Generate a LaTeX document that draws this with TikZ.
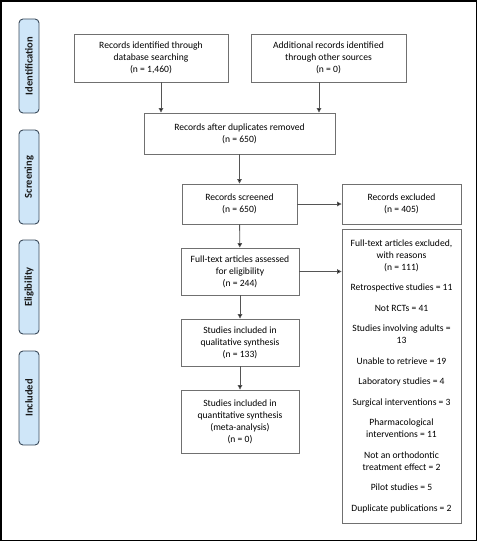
\documentclass[tikz,border=0pt]{standalone}
\usepackage{fontspec}
\setmainfont{Carlito}
\usetikzlibrary{arrows.meta,calc}
\definecolor{boxline}{HTML}{707070}
\definecolor{arrline}{HTML}{555555}
\definecolor{bandfill}{HTML}{CFE6F8}
\definecolor{bandline}{HTML}{3A4A5A}
\tikzset{
  flowbox/.style={draw=boxline, line width=0.9pt, fill=white, align=center, inner sep=2pt,
    font=\fontsize{9.6}{12}\selectfont},
  band/.style={draw=bandline, line width=0.9pt, fill=bandfill, rounded corners=4pt,
    minimum width=20pt, minimum height=94pt, inner sep=0pt},
  bandtext/.style={rotate=90, font=\fontsize{10.5}{12}\selectfont\bfseries, text=black!90},
  arr/.style={draw=arrline, line width=0.9pt, -{Triangle[length=4.5pt,width=4.5pt,fill=black]}},
}
\begin{document}
\begin{tikzpicture}[x=1pt,y=-1pt]
\useasboundingbox (0,0) rectangle (480,543);
\draw[line width=1.6pt] (1,1) rectangle (476.5,540.5);

% side bands
\node[band] (b1) at (29,66) {};
\node[bandtext] at (b1) {Identification};
\node[band] (b2) at (29,177) {};
\node[bandtext] at (b2) {Screening};
\node[band] (b3) at (29,287) {};
\node[bandtext] at (b3) {Eligibility};
\node[band] (b4) at (29,398) {};
\node[bandtext] at (b4) {Included};

% boxes
\node[flowbox, minimum width=154pt, minimum height=48pt] (A) at (151,58)
  {Records identified through\\database searching\\(n = 1,460)};
\node[flowbox, minimum width=155pt, minimum height=48pt] (B) at (328.5,58)
  {Additional records identified\\through other sources\\(n = 0)};
\node[flowbox, minimum width=191pt, minimum height=41pt] (C) at (239.5,133.5)
  {Records after duplicates removed\\(n = 650)};
\node[flowbox, minimum width=115pt, minimum height=40pt] (D) at (239.5,204)
  {Records screened\\(n = 650)};
\node[flowbox, minimum width=119pt, minimum height=40pt] (E) at (401.5,204)
  {Records excluded\\(n = 405)};
\node[flowbox, minimum width=118pt, minimum height=47pt] (F) at (240,271.5)
  {Full-text articles assessed\\for eligibility\\(n = 244)};
\node[flowbox, minimum width=118pt, minimum height=47pt] (H) at (240,342.5)
  {Studies included in\\qualitative synthesis\\(n = 133)};
\node[flowbox, minimum width=118pt, minimum height=63pt] (I) at (240,421.5)
  {Studies included in\\quantitative synthesis\\(meta-analysis)\\(n = 0)};
\node[flowbox, minimum width=119pt, minimum height=294pt] (G) at (401.5,376)
  {Full-text articles excluded,\\with reasons\\(n = 111)\\[8.5pt]
   Retrospective studies = 11\\[8.5pt]
   Not RCTs = 41\\[8.5pt]
   Studies involving adults =\\13\\[8.5pt]
   Unable to retrieve = 19\\[8.5pt]
   Laboratory studies = 4\\[8.5pt]
   Surgical interventions = 3\\[8.5pt]
   Pharmacological\\interventions = 11\\[8.5pt]
   Not an orthodontic\\treatment effect = 2\\[8.5pt]
   Pilot studies = 5\\[8.5pt]
   Duplicate publications = 2};

% connectors
\coordinate (xa) at (161,0);
\coordinate (xb) at (319,0);
\draw[arr] (A.south -| xa) -- (C.north -| xa);
\draw[arr] (B.south -| xb) -- (C.north -| xb);
\draw[arr] (C) -- (D);
\draw[arr] (D) -- (E);
\draw[arr] (D) -- (F);
\draw[arr] (F.east) -- (F.east -| G.west);
\draw[arr] (F) -- (H);
\draw[arr] (H) -- (I);
\end{tikzpicture}
\end{document}
